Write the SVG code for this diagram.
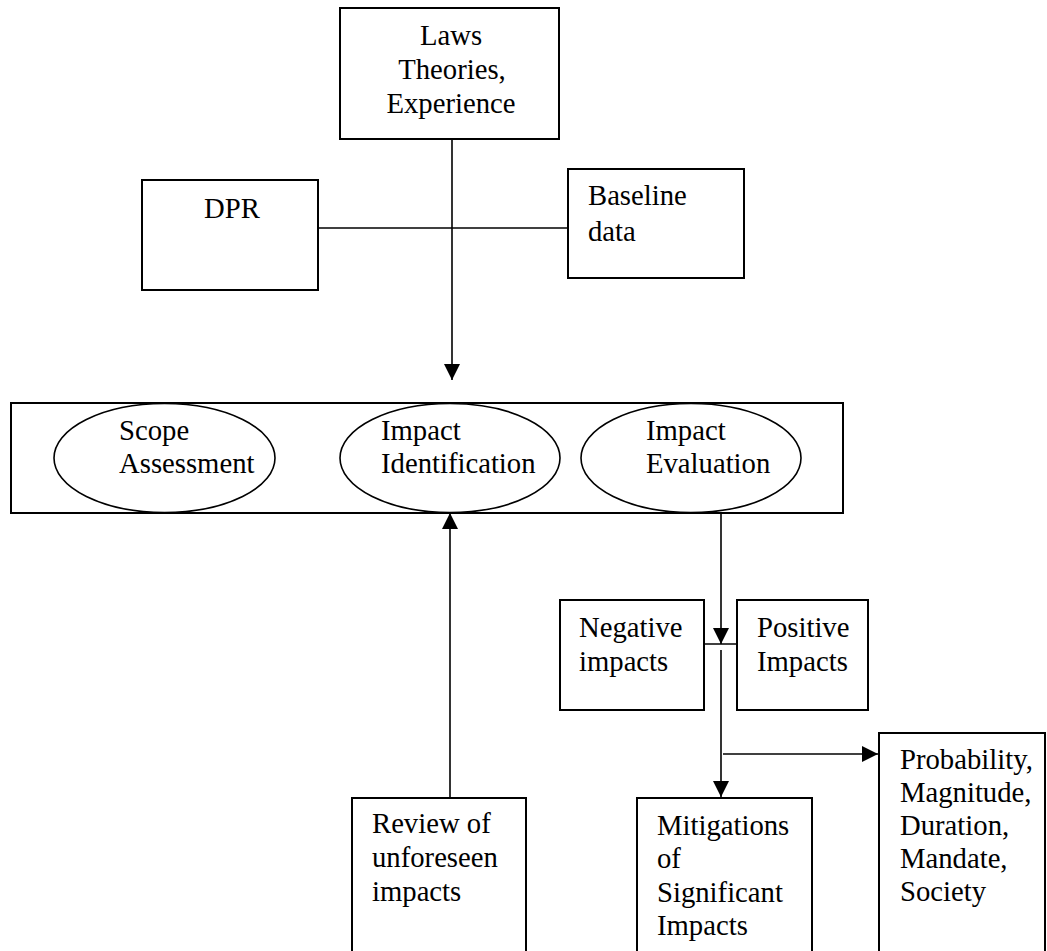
<svg xmlns="http://www.w3.org/2000/svg" width="1047" height="951" viewBox="0 0 1047 951" font-family="'Liberation Serif', 'Times New Roman', 'DejaVu Serif', serif">
<style>
.box{fill:#fff;stroke:#000;stroke-width:2}
.ell{fill:#fff;stroke:#000;stroke-width:1.6}
.ln{fill:none;stroke:#000;stroke-width:1.6}
text{font-family:'Liberation Serif','Times New Roman','DejaVu Serif',serif;font-size:28.7px;fill:#000}
.c{text-anchor:middle}
</style>
<defs>
<marker id="ah" markerUnits="userSpaceOnUse" markerWidth="16" markerHeight="16" viewBox="0 0 14 14" refX="14" refY="7" orient="auto">
<path d="M0,0 L14,7 L0,14 Z" fill="#000"/>
</marker>
</defs>
<rect width="1047" height="951" fill="#fff"/>
<g id="connectors">
<line class="ln" x1="452" y1="139" x2="452" y2="380" marker-end="url(#ah)"/>
<line class="ln" x1="318" y1="228" x2="568" y2="228"/>
<line class="ln" x1="450" y1="798" x2="450" y2="513" marker-end="url(#ah)"/>
<line class="ln" x1="721" y1="513" x2="721" y2="644" marker-end="url(#ah)"/>
<line class="ln" x1="704" y1="644" x2="739" y2="644"/>
<line class="ln" x1="721" y1="650" x2="721" y2="797" marker-end="url(#ah)"/>
<line class="ln" x1="723" y1="754" x2="878" y2="754" marker-end="url(#ah)"/>
</g>
<g id="laws">
<rect class="box" x="340" y="8" width="219" height="131"/>
<text class="c" x="451" y="45" font-family="'Liberation Serif', serif">Laws</text>
<text class="c" x="452" y="79" font-family="'Liberation Serif', serif">Theories,</text>
<text class="c" x="451" y="113" font-family="'Liberation Serif', serif">Experience</text>
</g>
<g id="dpr">
<rect class="box" x="142" y="180" width="176" height="110"/>
<text class="c" x="232" y="218">DPR</text>
</g>
<g id="baseline">
<rect class="box" x="568" y="169" width="176" height="109"/>
<text x="588" y="205">Baseline</text>
<text x="588" y="241">data</text>
</g>
<g id="process">
<rect class="box" x="11" y="403" width="832" height="110"/>
</g>
<g id="scope">
<ellipse class="ell" cx="164.5" cy="458" rx="110.5" ry="54.5"/>
<text x="119" y="440">Scope</text>
<text x="119" y="473">Assessment</text>
</g>
<g id="identification">
<ellipse class="ell" cx="450" cy="458" rx="110" ry="54.5"/>
<text x="381" y="440">Impact</text>
<text x="381" y="473">Identification</text>
</g>
<g id="evaluation">
<ellipse class="ell" cx="691" cy="458" rx="110" ry="54.5"/>
<text x="646" y="440">Impact</text>
<text x="646" y="473">Evaluation</text>
</g>
<g id="negative">
<rect class="box" x="560" y="600" width="144" height="110"/>
<text x="579" y="637">Negative</text>
<text x="579" y="671">impacts</text>
</g>
<g id="positive">
<rect class="box" x="737" y="600" width="131" height="110"/>
<text x="757" y="637">Positive</text>
<text x="757" y="671">Impacts</text>
</g>
<g id="review">
<rect class="box" x="352" y="798" width="174" height="170"/>
<text x="372" y="833">Review of</text>
<text x="372" y="867">unforeseen</text>
<text x="372" y="901">impacts</text>
</g>
<g id="mitigations">
<rect class="box" x="637" y="798" width="175" height="170"/>
<text x="657" y="835">Mitigations</text>
<text x="657" y="868">of</text>
<text x="657" y="902">Significant</text>
<text x="657" y="935">Impacts</text>
</g>
<g id="factors">
<rect class="box" x="879" y="733" width="166" height="235"/>
<text x="900" y="769">Probability,</text>
<text x="900" y="802">Magnitude,</text>
<text x="900" y="835">Duration,</text>
<text x="900" y="868">Mandate,</text>
<text x="900" y="901">Society</text>
</g>
</svg>
